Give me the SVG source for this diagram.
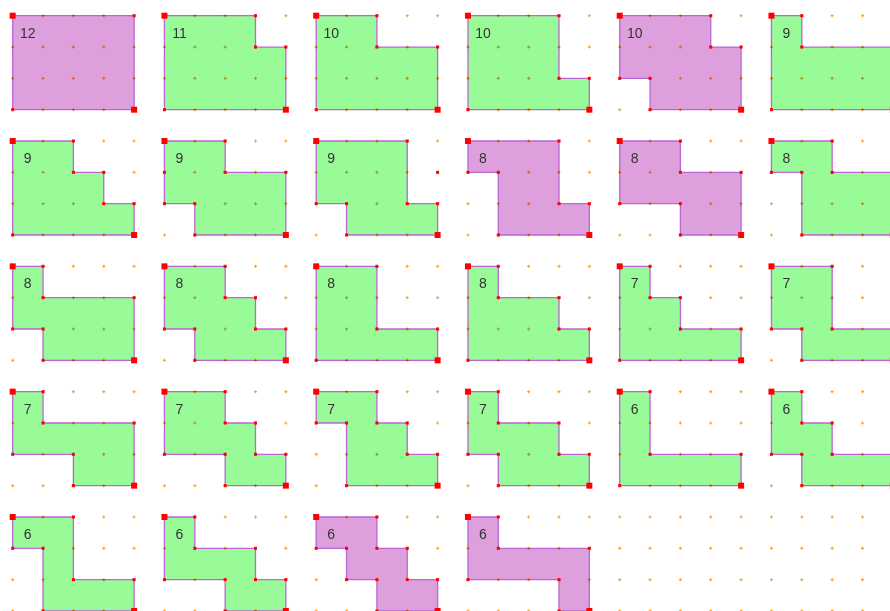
<svg xmlns="http://www.w3.org/2000/svg" width="890" height="611" viewBox="0 0 890 611">
<style>
.lat{fill:none;stroke:#FFA22E;stroke-width:1.2}
.lh{stroke-dasharray:3 27.35}
.lv{stroke-dasharray:3 28.33}
.shape{mix-blend-mode:multiply}
.pu{fill:#DDA0DD;stroke:#BB66D5;stroke-width:1.3;stroke-linejoin:miter}
.gr{fill:#98FB98;stroke:#BB66D5;stroke-width:1.3;stroke-linejoin:miter}
text{font-family:"Liberation Sans",Arial,sans-serif;font-size:14px;fill:#333;text-anchor:middle}
</style>
<defs>
<rect id="d" x="-1.5" y="-1.5" width="3" height="3" fill="#FF0000"/>
<rect id="D" x="-3" y="-3" width="6" height="6" fill="#FF0000"/>
</defs>
<rect width="890" height="611" fill="#FFFFFF"/>
<g id="lattice">
<path class="lat lh" d="M11.2 15.7H892M11.2 47.03H892M11.2 78.36H892M11.2 109.69H892M11.2 141.02H892M11.2 172.35H892M11.2 203.68H892M11.2 235.01H892M11.2 266.34H892M11.2 297.67H892M11.2 329H892M11.2 360.33H892M11.2 391.66H892M11.2 422.99H892M11.2 454.32H892M11.2 485.65H892M11.2 516.98H892M11.2 548.31H892M11.2 579.64H892M11.2 610.97H892"/>
<path class="lat lv" d="M12.7 14.2V612M43.05 14.2V612M73.4 14.2V612M103.75 14.2V612M134.1 14.2V612M164.45 14.2V612M194.8 14.2V612M225.15 14.2V612M255.5 14.2V612M285.85 14.2V612M316.2 14.2V612M346.55 14.2V612M376.9 14.2V612M407.25 14.2V612M437.6 14.2V612M467.95 14.2V612M498.3 14.2V612M528.65 14.2V612M559 14.2V612M589.35 14.2V612M619.7 14.2V612M650.05 14.2V612M680.4 14.2V612M710.75 14.2V612M741.1 14.2V612M771.45 14.2V612M801.8 14.2V612M832.15 14.2V612M862.5 14.2V612"/>
</g>

<g id="s1" class="shape" transform="translate(12.7,15.7)">
<path class="pu" d="M0 0H121.4V93.99H0Z"/>
<use href="#d" x="121.4" y="0"/><use href="#d" x="0" y="93.99"/>
<use href="#D"/><use href="#D" x="121.4" y="93.99"/>
<text x="15" y="22">12</text></g>

<g id="s2" class="shape" transform="translate(164.45,15.7)">
<path class="gr" d="M0 0H91.05V31.33H121.4V93.99H0Z"/>
<use href="#d" x="91.05" y="0"/><use href="#d" x="91.05" y="31.33"/><use href="#d" x="121.4" y="31.33"/><use href="#d" x="0" y="93.99"/>
<use href="#D"/><use href="#D" x="121.4" y="93.99"/>
<text x="15" y="22">11</text></g>

<g id="s3" class="shape" transform="translate(316.2,15.7)">
<path class="gr" d="M0 0H60.7V31.33H121.4V93.99H0Z"/>
<use href="#d" x="60.7" y="0"/><use href="#d" x="60.7" y="31.33"/><use href="#d" x="121.4" y="31.33"/><use href="#d" x="0" y="93.99"/>
<use href="#D"/><use href="#D" x="121.4" y="93.99"/>
<text x="15" y="22">10</text></g>

<g id="s4" class="shape" transform="translate(467.95,15.7)">
<path class="gr" d="M0 0H91.05V62.66H121.4V93.99H0Z"/>
<use href="#d" x="91.05" y="0"/><use href="#d" x="91.05" y="62.66"/><use href="#d" x="121.4" y="62.66"/><use href="#d" x="0" y="93.99"/>
<use href="#D"/><use href="#D" x="121.4" y="93.99"/>
<text x="15" y="22">10</text></g>

<g id="s5" class="shape" transform="translate(619.7,15.7)">
<path class="pu" d="M0 0H91.05V31.33H121.4V93.99H30.35V62.66H0Z"/>
<use href="#d" x="91.05" y="0"/><use href="#d" x="91.05" y="31.33"/><use href="#d" x="121.4" y="31.33"/><use href="#d" x="30.35" y="93.99"/><use href="#d" x="30.35" y="62.66"/><use href="#d" x="0" y="62.66"/>
<use href="#D"/><use href="#D" x="121.4" y="93.99"/>
<text x="15" y="22">10</text></g>

<g id="s6" class="shape" transform="translate(771.45,15.7)">
<path class="gr" d="M0 0H30.35V31.33H121.4V93.99H0Z"/>
<use href="#d" x="30.35" y="0"/><use href="#d" x="30.35" y="31.33"/><use href="#d" x="121.4" y="31.33"/><use href="#d" x="0" y="93.99"/>
<use href="#D"/><use href="#D" x="121.4" y="93.99"/>
<text x="15" y="22">9</text></g>

<g id="s7" class="shape" transform="translate(12.7,141.02)">
<path class="gr" d="M0 0H60.7V31.33H91.05V62.66H121.4V93.99H0Z"/>
<use href="#d" x="60.7" y="0"/><use href="#d" x="60.7" y="31.33"/><use href="#d" x="91.05" y="31.33"/><use href="#d" x="91.05" y="62.66"/><use href="#d" x="121.4" y="62.66"/><use href="#d" x="0" y="93.99"/>
<use href="#D"/><use href="#D" x="121.4" y="93.99"/>
<text x="15" y="22">9</text></g>

<g id="s8" class="shape" transform="translate(164.45,141.02)">
<path class="gr" d="M0 0H60.7V31.33H121.4V93.99H30.35V62.66H0Z"/>
<use href="#d" x="60.7" y="0"/><use href="#d" x="60.7" y="31.33"/><use href="#d" x="121.4" y="31.33"/><use href="#d" x="30.35" y="93.99"/><use href="#d" x="30.35" y="62.66"/><use href="#d" x="0" y="62.66"/><use href="#d" x="0" y="31.33"/>
<use href="#D"/><use href="#D" x="121.4" y="93.99"/>
<text x="15" y="22">9</text></g>

<g id="s9" class="shape" transform="translate(316.2,141.02)">
<path class="gr" d="M0 0H91.05V62.66H121.4V93.99H30.35V62.66H0Z"/>
<use href="#d" x="91.05" y="0"/><use href="#d" x="91.05" y="62.66"/><use href="#d" x="121.4" y="62.66"/><use href="#d" x="30.35" y="93.99"/><use href="#d" x="30.35" y="62.66"/><use href="#d" x="0" y="62.66"/><use href="#d" x="121.4" y="31.33"/>
<use href="#D"/><use href="#D" x="121.4" y="93.99"/>
<text x="15" y="22">9</text></g>

<g id="s10" class="shape" transform="translate(467.95,141.02)">
<path class="pu" d="M0 0H91.05V62.66H121.4V93.99H30.35V31.33H0Z"/>
<use href="#d" x="91.05" y="0"/><use href="#d" x="91.05" y="62.66"/><use href="#d" x="121.4" y="62.66"/><use href="#d" x="30.35" y="93.99"/><use href="#d" x="30.35" y="31.33"/><use href="#d" x="0" y="31.33"/>
<use href="#D"/><use href="#D" x="121.4" y="93.99"/>
<text x="15" y="22">8</text></g>

<g id="s11" class="shape" transform="translate(619.7,141.02)">
<path class="pu" d="M0 0H60.7V31.33H121.4V93.99H60.7V62.66H0Z"/>
<use href="#d" x="60.7" y="0"/><use href="#d" x="60.7" y="31.33"/><use href="#d" x="121.4" y="31.33"/><use href="#d" x="60.7" y="93.99"/><use href="#d" x="60.7" y="62.66"/><use href="#d" x="0" y="62.66"/>
<use href="#D"/><use href="#D" x="121.4" y="93.99"/>
<text x="15" y="22">8</text></g>

<g id="s12" class="shape" transform="translate(771.45,141.02)">
<path class="gr" d="M0 0H60.7V31.33H121.4V93.99H30.35V31.33H0Z"/>
<use href="#d" x="60.7" y="0"/><use href="#d" x="60.7" y="31.33"/><use href="#d" x="121.4" y="31.33"/><use href="#d" x="30.35" y="93.99"/><use href="#d" x="30.35" y="31.33"/><use href="#d" x="0" y="31.33"/>
<use href="#D"/><use href="#D" x="121.4" y="93.99"/>
<text x="15" y="22">8</text></g>

<g id="s13" class="shape" transform="translate(12.7,266.34)">
<path class="gr" d="M0 0H30.35V31.33H121.4V93.99H30.35V62.66H0Z"/>
<use href="#d" x="30.35" y="0"/><use href="#d" x="30.35" y="31.33"/><use href="#d" x="121.4" y="31.33"/><use href="#d" x="30.35" y="93.99"/><use href="#d" x="30.35" y="62.66"/><use href="#d" x="0" y="62.66"/>
<use href="#D"/><use href="#D" x="121.4" y="93.99"/>
<text x="15" y="22">8</text></g>

<g id="s14" class="shape" transform="translate(164.45,266.34)">
<path class="gr" d="M0 0H60.7V31.33H91.05V62.66H121.4V93.99H30.35V62.66H0Z"/>
<use href="#d" x="60.7" y="0"/><use href="#d" x="60.7" y="31.33"/><use href="#d" x="91.05" y="31.33"/><use href="#d" x="91.05" y="62.66"/><use href="#d" x="121.4" y="62.66"/><use href="#d" x="30.35" y="93.99"/><use href="#d" x="30.35" y="62.66"/><use href="#d" x="0" y="62.66"/>
<use href="#D"/><use href="#D" x="121.4" y="93.99"/>
<text x="15" y="22">8</text></g>

<g id="s15" class="shape" transform="translate(316.2,266.34)">
<path class="gr" d="M0 0H60.7V62.66H121.4V93.99H0Z"/>
<use href="#d" x="60.7" y="0"/><use href="#d" x="60.7" y="62.66"/><use href="#d" x="121.4" y="62.66"/><use href="#d" x="0" y="93.99"/>
<use href="#D"/><use href="#D" x="121.4" y="93.99"/>
<text x="15" y="22">8</text></g>

<g id="s16" class="shape" transform="translate(467.95,266.34)">
<path class="gr" d="M0 0H30.35V31.33H91.05V62.66H121.4V93.99H0Z"/>
<use href="#d" x="30.35" y="0"/><use href="#d" x="30.35" y="31.33"/><use href="#d" x="91.05" y="31.33"/><use href="#d" x="91.05" y="62.66"/><use href="#d" x="121.4" y="62.66"/><use href="#d" x="0" y="93.99"/>
<use href="#D"/><use href="#D" x="121.4" y="93.99"/>
<text x="15" y="22">8</text></g>

<g id="s17" class="shape" transform="translate(619.7,266.34)">
<path class="gr" d="M0 0H30.35V31.33H60.7V62.66H121.4V93.99H0Z"/>
<use href="#d" x="30.35" y="0"/><use href="#d" x="30.35" y="31.33"/><use href="#d" x="60.7" y="31.33"/><use href="#d" x="60.7" y="62.66"/><use href="#d" x="121.4" y="62.66"/><use href="#d" x="0" y="93.99"/>
<use href="#D"/><use href="#D" x="121.4" y="93.99"/>
<text x="15" y="22">7</text></g>

<g id="s18" class="shape" transform="translate(771.45,266.34)">
<path class="gr" d="M0 0H60.7V62.66H121.4V93.99H30.35V62.66H0Z"/>
<use href="#d" x="60.7" y="0"/><use href="#d" x="60.7" y="62.66"/><use href="#d" x="121.4" y="62.66"/><use href="#d" x="30.35" y="93.99"/><use href="#d" x="30.35" y="62.66"/><use href="#d" x="0" y="62.66"/>
<use href="#D"/><use href="#D" x="121.4" y="93.99"/>
<text x="15" y="22">7</text></g>

<g id="s19" class="shape" transform="translate(12.7,391.66)">
<path class="gr" d="M0 0H30.35V31.33H121.4V93.99H60.7V62.66H0Z"/>
<use href="#d" x="30.35" y="0"/><use href="#d" x="30.35" y="31.33"/><use href="#d" x="121.4" y="31.33"/><use href="#d" x="60.7" y="93.99"/><use href="#d" x="60.7" y="62.66"/><use href="#d" x="0" y="62.66"/>
<use href="#D"/><use href="#D" x="121.4" y="93.99"/>
<text x="15" y="22">7</text></g>

<g id="s20" class="shape" transform="translate(164.45,391.66)">
<path class="gr" d="M0 0H60.7V31.33H91.05V62.66H121.4V93.99H60.7V62.66H0Z"/>
<use href="#d" x="60.7" y="0"/><use href="#d" x="60.7" y="31.33"/><use href="#d" x="91.05" y="31.33"/><use href="#d" x="91.05" y="62.66"/><use href="#d" x="121.4" y="62.66"/><use href="#d" x="60.7" y="93.99"/><use href="#d" x="60.7" y="62.66"/><use href="#d" x="0" y="62.66"/>
<use href="#D"/><use href="#D" x="121.4" y="93.99"/>
<text x="15" y="22">7</text></g>

<g id="s21" class="shape" transform="translate(316.2,391.66)">
<path class="gr" d="M0 0H60.7V31.33H91.05V62.66H121.4V93.99H30.35V31.33H0Z"/>
<use href="#d" x="60.7" y="0"/><use href="#d" x="60.7" y="31.33"/><use href="#d" x="91.05" y="31.33"/><use href="#d" x="91.05" y="62.66"/><use href="#d" x="121.4" y="62.66"/><use href="#d" x="30.35" y="93.99"/><use href="#d" x="30.35" y="31.33"/><use href="#d" x="0" y="31.33"/>
<use href="#D"/><use href="#D" x="121.4" y="93.99"/>
<text x="15" y="22">7</text></g>

<g id="s22" class="shape" transform="translate(467.95,391.66)">
<path class="gr" d="M0 0H30.35V31.33H91.05V62.66H121.4V93.99H30.35V62.66H0Z"/>
<use href="#d" x="30.35" y="0"/><use href="#d" x="30.35" y="31.33"/><use href="#d" x="91.05" y="31.33"/><use href="#d" x="91.05" y="62.66"/><use href="#d" x="121.4" y="62.66"/><use href="#d" x="30.35" y="93.99"/><use href="#d" x="30.35" y="62.66"/><use href="#d" x="0" y="62.66"/>
<use href="#D"/><use href="#D" x="121.4" y="93.99"/>
<text x="15" y="22">7</text></g>

<g id="s23" class="shape" transform="translate(619.7,391.66)">
<path class="gr" d="M0 0H30.35V62.66H121.4V93.99H0Z"/>
<use href="#d" x="30.35" y="0"/><use href="#d" x="30.35" y="62.66"/><use href="#d" x="121.4" y="62.66"/><use href="#d" x="0" y="93.99"/>
<use href="#D"/><use href="#D" x="121.4" y="93.99"/>
<text x="15" y="22">6</text></g>

<g id="s24" class="shape" transform="translate(771.45,391.66)">
<path class="gr" d="M0 0H30.35V31.33H60.7V62.66H121.4V93.99H30.35V62.66H0Z"/>
<use href="#d" x="30.35" y="0"/><use href="#d" x="30.35" y="31.33"/><use href="#d" x="60.7" y="31.33"/><use href="#d" x="60.7" y="62.66"/><use href="#d" x="121.4" y="62.66"/><use href="#d" x="30.35" y="93.99"/><use href="#d" x="30.35" y="62.66"/><use href="#d" x="0" y="62.66"/>
<use href="#D"/><use href="#D" x="121.4" y="93.99"/>
<text x="15" y="22">6</text></g>

<g id="s25" class="shape" transform="translate(12.7,516.98)">
<path class="gr" d="M0 0H60.7V62.66H121.4V93.99H30.35V31.33H0Z"/>
<use href="#d" x="60.7" y="0"/><use href="#d" x="60.7" y="62.66"/><use href="#d" x="121.4" y="62.66"/><use href="#d" x="30.35" y="93.99"/><use href="#d" x="30.35" y="31.33"/><use href="#d" x="0" y="31.33"/>
<use href="#D"/><use href="#D" x="121.4" y="93.99"/>
<text x="15" y="22">6</text></g>

<g id="s26" class="shape" transform="translate(164.45,516.98)">
<path class="gr" d="M0 0H30.35V31.33H91.05V62.66H121.4V93.99H60.7V62.66H0Z"/>
<use href="#d" x="30.35" y="0"/><use href="#d" x="30.35" y="31.33"/><use href="#d" x="91.05" y="31.33"/><use href="#d" x="91.05" y="62.66"/><use href="#d" x="121.4" y="62.66"/><use href="#d" x="60.7" y="93.99"/><use href="#d" x="60.7" y="62.66"/><use href="#d" x="0" y="62.66"/>
<use href="#D"/><use href="#D" x="121.4" y="93.99"/>
<text x="15" y="22">6</text></g>

<g id="s27" class="shape" transform="translate(316.2,516.98)">
<path class="pu" d="M0 0H60.7V31.33H91.05V62.66H121.4V93.99H60.7V62.66H30.35V31.33H0Z"/>
<use href="#d" x="60.7" y="0"/><use href="#d" x="60.7" y="31.33"/><use href="#d" x="91.05" y="31.33"/><use href="#d" x="91.05" y="62.66"/><use href="#d" x="121.4" y="62.66"/><use href="#d" x="60.7" y="93.99"/><use href="#d" x="60.7" y="62.66"/><use href="#d" x="30.35" y="62.66"/><use href="#d" x="30.35" y="31.33"/><use href="#d" x="0" y="31.33"/>
<use href="#D"/><use href="#D" x="121.4" y="93.99"/>
<text x="15" y="22">6</text></g>

<g id="s28" class="shape" transform="translate(467.95,516.98)">
<path class="pu" d="M0 0H30.35V31.33H121.4V93.99H91.05V62.66H0Z"/>
<use href="#d" x="30.35" y="0"/><use href="#d" x="30.35" y="31.33"/><use href="#d" x="121.4" y="31.33"/><use href="#d" x="91.05" y="93.99"/><use href="#d" x="91.05" y="62.66"/><use href="#d" x="0" y="62.66"/>
<use href="#D"/><use href="#D" x="121.4" y="93.99"/>
<text x="15" y="22">6</text></g>
</svg>
